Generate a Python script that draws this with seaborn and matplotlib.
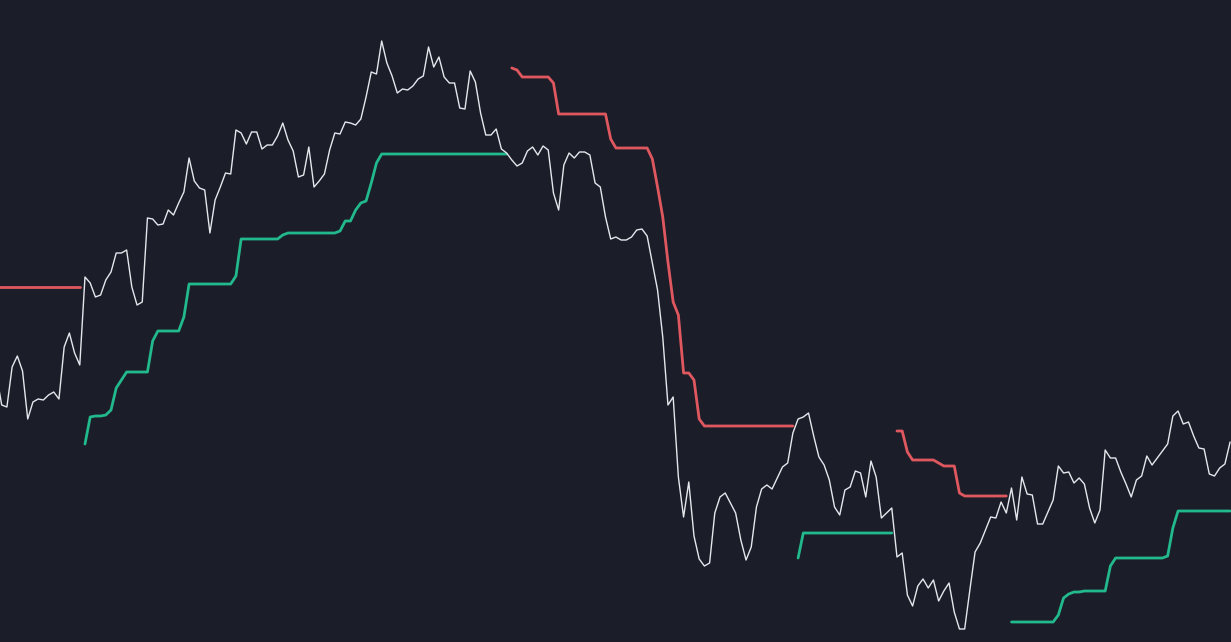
import numpy as np
import pandas as pd
import matplotlib
matplotlib.use("Agg")
import matplotlib.pyplot as plt
import seaborn as sns

sns.set_theme(style="dark")

# precio de cierre por barra (unidades arbitrarias), barra -1 .. 236
precio = [
    267, 237, 235, 275, 286, 271, 223, 240, 243, 242, 247, 250, 243, 295, 309, 289, 277,
    365, 359, 345, 347, 362, 370, 389, 389, 392, 355, 337, 340, 424, 423, 417, 418, 432,
    427, 439, 450, 484, 461, 454, 452, 409, 442, 455, 469, 468, 512, 509, 498, 510, 510,
    493, 497, 497, 506, 519, 502, 491, 465, 467, 495, 455, 461, 468, 492, 509, 508, 520,
    519, 517, 523, 545, 570, 568, 601, 579, 566, 549, 553, 552, 556, 563, 566, 595, 575,
    585, 565, 559, 559, 534, 533, 571, 560, 529, 507, 507, 513, 493, 489, 482, 476, 479,
    491, 495, 487, 496, 492, 449, 432, 477, 489, 484, 490, 490, 487, 459, 455, 425, 403,
    405, 402, 402, 405, 412, 413, 406, 379, 352, 305, 237, 245, 165, 125, 160, 106, 83,
    76, 79, 129, 145, 149, 139, 129, 102, 82, 95, 135, 153, 157, 153, 164, 175, 179, 209,
    223, 225, 229, 206, 185, 177, 162, 135, 127, 152, 155, 171, 169, 145, 181, 165, 124,
    129, 134, 85, 89, 47, 36, 56, 63, 54, 62, 41, 51, 59, 30, 13, 13, 52, 90, 99, 112,
    125, 124, 140, 129, 154, 122, 165, 148, 147, 118, 118, 130, 142, 176, 169, 170, 159,
    164, 158, 134, 119, 132, 192, 184, 184, 170, 158, 145, 162, 166, 186, 177, 184, 191,
    198, 226, 231, 218, 220, 206, 194, 193, 168, 166, 174, 178, 200,
]

# stop dinámico (trailing stop) por barra
stop = [
    # corto
    355, 355, 355, 355, 355, 355, 355, 355, 355, 355, 355, 355, 355, 355, 355, 355, 355,
    # largo
    198, 225, 226, 226, 227, 232, 254, 262, 270, 270, 270, 270, 270, 301, 311, 311, 311,
    311, 311, 325, 358, 358, 358, 358, 358, 358, 358, 358, 358, 366, 403, 403, 403, 403,
    403, 403, 403, 403, 407, 409, 409, 409, 409, 409, 409, 409, 409, 409, 409, 411, 421,
    421, 432, 439, 441, 459, 479, 488, 488, 488, 488, 488, 488, 488, 488, 488, 488, 488,
    488, 488, 488, 488, 488, 488, 488, 488, 488, 488, 488, 488, 488, 488,
    # corto
    574, 572, 565, 565, 565, 565, 565, 565, 559, 528, 528, 528, 528, 528, 528, 528, 528,
    528, 528, 503, 494, 494, 494, 494, 494, 494, 494, 483, 455, 425, 380, 340, 327, 269,
    269, 262, 223, 216, 216, 216, 216, 216, 216, 216, 216, 216, 216, 216, 216, 216, 216,
    216, 216, 216, 216,
    # largo
    84, 109, 109, 109, 109, 109, 109, 109, 109, 109, 109, 109, 109, 109, 109, 109, 109,
    109, 109,
    # corto
    211, 211, 190, 182, 182, 182, 182, 182, 179, 176, 176, 176, 149, 146, 146, 146, 146,
    146, 146, 146, 146, 146,
    # largo
    20, 20, 20, 20, 20, 20, 20, 20, 20, 27, 44, 48, 50, 50, 51, 51, 51, 51, 51, 76, 84,
    84, 84, 84, 84, 84, 84, 84, 84, 84, 86, 114, 131, 131, 131, 131, 131, 131, 131, 131,
    131, 131, 131,
]

# tramos del stop: lado y número de barras
tramo_lado = ["corto", "largo", "corto", "largo", "corto", "largo"]
tramo_barras = [17, 82, 55, 19, 22, 43]

fondo = "#1b1d29"
colores = {"corto": "#e0585f", "largo": "#22b98c"}

barras = np.arange(-1, len(precio) - 1)
df = pd.DataFrame({"barra": barras, "precio": precio})

seg = np.repeat(np.arange(len(tramo_barras)), tramo_barras)
df_stop = pd.DataFrame({"barra": barras, "stop": stop, "tramo": seg})
paleta = {i: colores[l] for i, l in enumerate(tramo_lado)}

fig = plt.figure(figsize=(12.31, 6.42), dpi=100, facecolor=fondo)
ax = fig.add_axes([0, 0, 1, 1])
ax.set_facecolor(fondo)

sns.lineplot(data=df_stop, x="barra", y="stop", hue="tramo", palette=paleta,
             estimator=None, legend=False, linewidth=2.0, ax=ax)
sns.lineplot(data=df, x="barra", y="precio", color="#e6e7ec",
             estimator=None, linewidth=1.0, ax=ax)

ax.set_xlim(-0.327, 236.17)
ax.set_ylim(0, 642)
ax.axis("off")

fig.savefig("out.png", dpi=100, facecolor=fondo)
